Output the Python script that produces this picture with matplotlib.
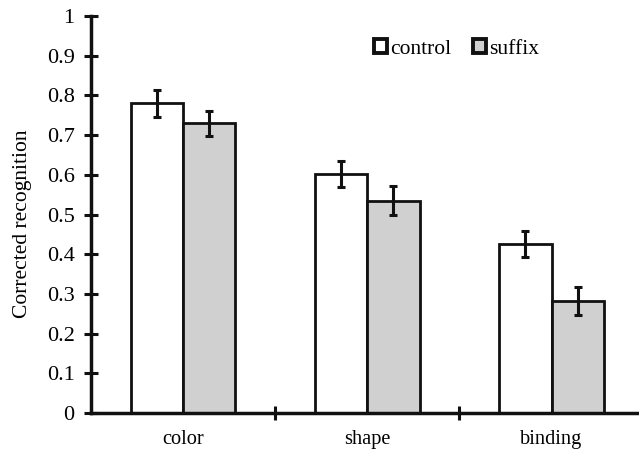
import matplotlib
matplotlib.use("Agg")
import matplotlib.pyplot as plt
import numpy as np

categories = ["color", "shape", "binding"]
control = [0.78, 0.602, 0.425]
suffix = [0.73, 0.535, 0.282]
control_err = [0.035, 0.033, 0.033]
suffix_err = [0.032, 0.036, 0.035]
yticks = [0, 0.1, 0.2, 0.3, 0.4, 0.5, 0.6, 0.7, 0.8, 0.9, 1]
ytick_labels = ["0", "0.1", "0.2", "0.3", "0.4", "0.5", "0.6", "0.7", "0.8", "0.9", "1"]

plt.rcParams['font.family'] = ['Liberation Serif', 'DejaVu Serif']

fig = plt.figure(figsize=(6.39, 4.51), dpi=100)
ax = fig.add_axes([0.1424, 0.0843, 0.862, 0.880])

x = np.arange(len(categories))
w = 0.284
ax.bar(x - w/2, control, w, color="white", edgecolor="#111111", linewidth=2.0,
       label="control", zorder=2)
ax.bar(x + w/2, suffix, w, color="#d0d0d0", edgecolor="#111111", linewidth=2.0,
       label="suffix", zorder=2)
ax.errorbar(x - w/2, control, yerr=control_err, fmt="none", ecolor="#111111",
            elinewidth=2.2, capsize=3, capthick=2.2, zorder=3)
ax.errorbar(x + w/2, suffix, yerr=suffix_err, fmt="none", ecolor="#111111",
            elinewidth=2.2, capsize=3, capthick=2.2, zorder=3)

ax.set_xlim(-0.5, 2.49)
ax.set_ylim(0, 1)
ax.set_yticks(yticks)
ax.set_yticklabels(ytick_labels, fontsize=16)
ax.set_xticks([0.5, 1.5])
ax.set_xticklabels([])
ax.set_xticks(x, minor=True)
ax.set_xticklabels(categories, minor=True, fontsize=14.7)
ax.tick_params(axis="x", which="minor", length=0, pad=12.5)
ax.tick_params(axis="x", which="major", direction="inout", length=9.5, width=2.2, color="#111111")
ax.tick_params(axis="y", direction="inout", length=9.5, width=2.2, color="#111111", pad=7)

for s in ["top", "right"]:
    ax.spines[s].set_visible(False)
for s in ["left", "bottom"]:
    ax.spines[s].set_linewidth(2.5)
    ax.spines[s].set_color("#111111")
    ax.spines[s].set_zorder(4)

ax.set_ylabel("Corrected recognition", fontsize=15.5)
ax.yaxis.set_label_coords((32/639 - 0.1424)/0.862, (1 - 224/451 - 0.0843)/0.880)

leg = ax.legend(loc="center left", bbox_to_anchor=((374 - 91)/551, (1 - 49/451 - 0.0843)/0.880),
                ncol=2, frameon=False,
                fontsize=15.5, handlelength=0.6, handleheight=0.6, handletextpad=0.15,
                columnspacing=1.0, borderaxespad=0, borderpad=0)
for h in leg.legend_handles:
    h.set_linewidth(2.8)

fig.savefig("out.png", dpi=100)
